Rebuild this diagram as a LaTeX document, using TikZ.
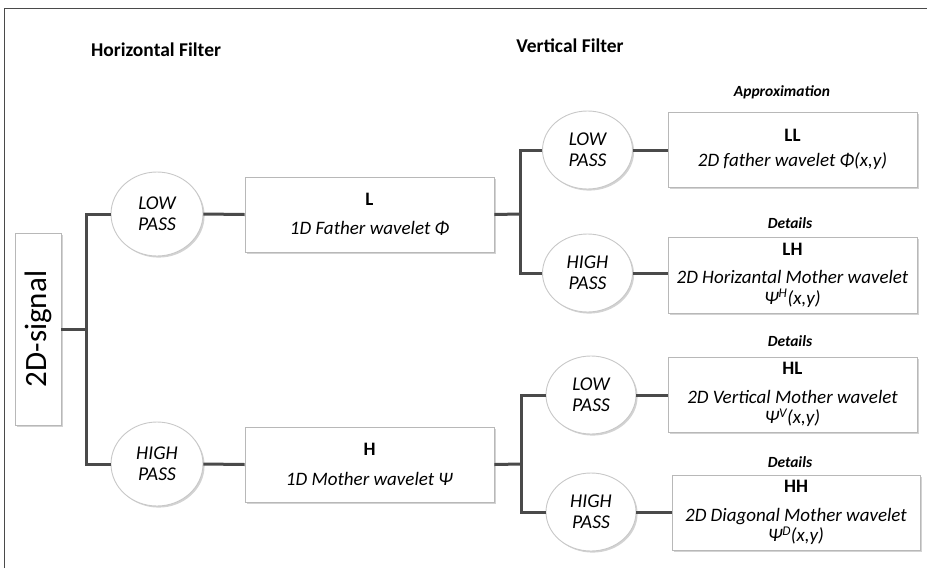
\documentclass[tikz,border=0pt]{standalone}
\usepackage{fontspec}
\setmainfont{Carlito}
\usetikzlibrary{shapes.geometric,shadows}
\definecolor{wire}{HTML}{4A4A4A}
\definecolor{rim}{HTML}{B8B8B8}
\definecolor{erim}{HTML}{C8C8C8}
\begin{document}
\begin{tikzpicture}[x=1pt,y=-1pt,
  soft/.style={drop shadow={shadow xshift=1.6pt,shadow yshift=-1.6pt,opacity=0.35,fill=gray}},
  bandbox/.style={draw=rim,line width=0.9pt,fill=white,soft,rectangle,
    minimum width=249pt,minimum height=75pt,inner sep=0pt,align=center,
    font=\fontsize{19}{20.5}\selectfont},
  passnode/.style={draw=erim,line width=0.9pt,fill=white,soft,ellipse,
    minimum width=90pt,minimum height=78pt,inner sep=0pt,align=center,
    font=\fontsize{19.5}{21}\selectfont\itshape},
  heading/.style={font=\fontsize{19.5}{21}\selectfont\bfseries},
  tag/.style={font=\fontsize{15.5}{17}\selectfont\bfseries\itshape},
  wireline/.style={draw=wire,line width=3pt}]
\useasboundingbox (0,0) rectangle (927,568);
% frame
\draw[wire,line width=1.3pt] (4.5,568) -- (4.5,8.5) -- (927,8.5);

% column headings
\node[heading] (hfilt) at (156,50) {Horizontal Filter};
\node[heading] (vfilt) at (570,46) {Vertical Filter};

% input
\node[draw=rim,line width=0.9pt,fill=white,soft,minimum width=46pt,minimum height=192pt,inner sep=0pt]
  (sig) at (38,329) {};
\node[rotate=90,font=\fontsize{31}{33}\selectfont] (sigtext) at (sig.center) {2D-signal};

% first stage
\node[passnode,minimum width=92pt,minimum height=84pt] (lp1) at (157,214) {LOW\\PASS};
\node[passnode,minimum width=92pt,minimum height=84pt] (hp1) at (157,464) {HIGH\\PASS};
\node[bandbox] (Lbox) at (369.5,214.5) {\textbf{L}\\[9pt]\textit{1D Father wavelet Φ}};
\node[bandbox] (Hbox) at (369.5,464.5) {\textbf{H}\\[9pt]\textit{1D Mother wavelet Ψ}};

% second stage
\node[passnode] (lp2) at (587.5,150) {LOW\\PASS};
\node[passnode] (hp2) at (587.5,273) {HIGH\\PASS};
\node[passnode] (lp3) at (591,395) {LOW\\PASS};
\node[passnode] (hp3) at (591,512) {HIGH\\PASS};

\node[bandbox] (LL) at (792.5,149.5) {\textbf{LL}\\[4pt]\textit{2D father wavelet Φ(x,y)}};
\node[bandbox,minimum height=76pt] (LH) at (792.5,275)
  {\textbf{LH}\\[8pt]\textit{2D Horizantal Mother wavelet}\\\textit{Ψ\textsuperscript{H}(x,y)}};
\node[bandbox] (HL) at (792.5,394.5)
  {\textbf{HL}\\[8pt]\textit{2D Vertical Mother wavelet}\\\textit{Ψ\textsuperscript{V}(x,y)}};
\node[bandbox,minimum width=248pt] (HH) at (796,512.5)
  {\textbf{HH}\\[8pt]\textit{2D Diagonal Mother wavelet}\\\textit{Ψ\textsuperscript{D}(x,y)}};

% band captions
\node[tag] (capLL) at (782,92) {Approximation};
\node[tag] (capLH) at (790,223) {Details};
\node[tag] (capHL) at (790,341) {Details};
\node[tag] (capHH) at (790,462) {Details};

% junctions
\coordinate (j1) at (86,329);
\coordinate (j2) at (520,214);
\coordinate (j3) at (521,464);

% connectors
\draw[wireline] (sig.east) -- (j1);
\draw[wireline] (lp1.west) -| (j1) |- (hp1.west);
\draw[wireline] (lp1.east) -- (Lbox.west);
\draw[wireline] (hp1.east) -- (Hbox.west);
\draw[wireline] (Lbox.east) -- (j2);
\draw[wireline] (lp2.west) -| (j2) |- (hp2.west);
\draw[wireline] (Hbox.east) -- (j3);
\draw[wireline] (lp3.west) -| (j3) |- (hp3.west);
\draw[wireline] (lp2.east) -- (lp2.east -| LL.west);
\draw[wireline] (hp2.east) -- (hp2.east -| LH.west);
\draw[wireline] (lp3.east) -- (lp3.east -| HL.west);
\draw[wireline] (hp3.east) -- (hp3.east -| HH.west);
\end{tikzpicture}
\end{document}
